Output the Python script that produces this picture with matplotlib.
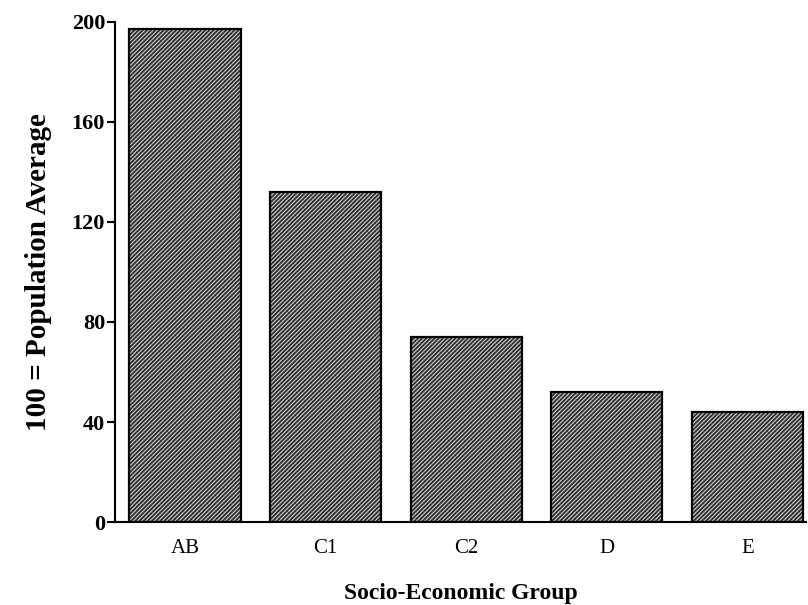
import matplotlib.pyplot as plt

groups = ["AB", "C1", "C2", "D", "E"]
index_values = [197, 132, 74, 52, 44]

plt.rcParams['font.family'] = 'Liberation Serif'
plt.rcParams['hatch.linewidth'] = 0.8

fig = plt.figure(figsize=(8.08, 6.05), dpi=100)
ax = fig.add_axes([0.142, 0.137, 0.856, 0.827])

x = list(range(len(groups)))
# hatched fill, then a black outline on top
ax.bar(x, index_values, width=0.79, color='#2e2e2e', edgecolor='#d0d0d0',
       hatch='////////', linewidth=0)
ax.bar(x, index_values, width=0.79, fill=False, edgecolor='black', linewidth=1.6)

ax.set_xlim(-0.5, 4.42)
ax.set_ylim(0, 200)
ax.set_yticks([0, 40, 80, 120, 160, 200])
ax.set_xticks(x)
ax.set_xticklabels(groups, fontsize=15)
for lab in ax.get_yticklabels():
    lab.set_fontweight('bold')
    lab.set_fontsize(16)

ax.spines['top'].set_visible(False)
ax.spines['right'].set_visible(False)
ax.spines['left'].set_linewidth(1.5)
ax.spines['bottom'].set_linewidth(1.5)
ax.tick_params(axis='y', direction='out', length=6, width=1.5, pad=1)
ax.tick_params(axis='x', length=0, pad=12)

ax.set_ylabel("100 = Population Average", fontsize=21, fontweight='bold', labelpad=14)
ax.set_xlabel("Socio-Economic Group", fontsize=17, fontweight='bold', labelpad=18)

plt.savefig("out.png", dpi=100)
